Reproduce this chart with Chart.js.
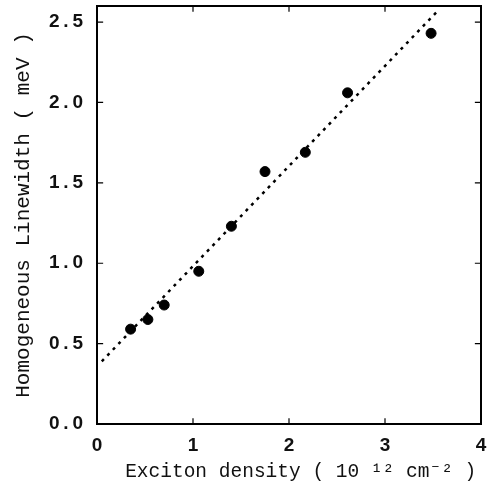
<!DOCTYPE html>
<html>
<head>
<meta charset="utf-8">
<script src="https://cdn.jsdelivr.net/npm/chart.js@4/dist/chart.umd.min.js"></script>
<style>
  html, body { margin: 0; padding: 0; background: #fff; }
  #wrap { width: 487px; height: 495px; }
</style>
</head>
<body>
<div id="wrap"><canvas id="myChart"></canvas></div>
<script>
// measured points
var density = [0.35, 0.53, 0.70, 1.06, 1.40, 1.75, 2.17, 2.61, 3.48];
var linewidth = [0.59, 0.65, 0.74, 0.95, 1.23, 1.57, 1.69, 2.06, 2.43];

// dotted fit line end points
var fitX = [0.05, 3.55];
var fitY = [0.39, 2.57];

var xTicks = [0, 1, 2, 3, 4];
var yTicks = [0.0, 0.5, 1.0, 1.5, 2.0, 2.5];

var xMin = 0, xMax = 4, yMin = 0, yMax = 2.6;

var monoFont = "'Liberation Mono', 'DejaVu Sans Mono', monospace";
var sansFont = "'Liberation Sans', Arial, sans-serif";

function spaced(s) {
  return s.split("").join("\u2009");
}

// tick mark length as a share of each axis range (about 6px)
var tickX = (xMax - xMin) * 0.016;
var tickY = (yMax - yMin) * 0.014;

// top and right sides of the box
var boxPts = [
  { x: xMin, y: yMax },
  { x: xMax, y: yMax },
  { x: xMax, y: yMin },
];

// short inward tick marks on all four sides, split by gaps
var tickPts = [];
xTicks.forEach(function (v) {
  tickPts.push({ x: v, y: yMin }, { x: v, y: yMin + tickY }, { x: v, y: null });
  tickPts.push({ x: v, y: yMax }, { x: v, y: yMax - tickY }, { x: v, y: null });
});
yTicks.forEach(function (v) {
  tickPts.push({ x: xMin, y: v }, { x: xMin + tickX, y: v }, { x: null, y: null });
  tickPts.push({ x: xMax, y: v }, { x: xMax - tickX, y: v }, { x: null, y: null });
});

var noTicks = { display: true, drawOnChartArea: false, drawTicks: false, tickLength: 0 };
var frame = { display: true, color: "#000", width: 2 };

function fitXAxis(s) { s.height = 60; s.paddingLeft = 0; s.paddingRight = 0; }
function fitYAxis(s) { s.width = 86; s.paddingTop = 0; s.paddingBottom = 0; }

new Chart(document.getElementById("myChart"), {
  type: "scatter",
  data: {
    datasets: [
      {
        label: "box",
        data: boxPts,
        showLine: true,
        borderColor: "#000",
        borderWidth: 2,
        pointRadius: 0,
        fill: false,
        clip: 4,
        order: 3,
      },
      {
        label: "ticks",
        data: tickPts,
        showLine: true,
        spanGaps: false,
        borderColor: "#000",
        borderWidth: 1.2,
        pointRadius: 0,
        fill: false,
        order: 3,
      },
      {
        label: "fit",
        data: fitX.map((x, i) => ({ x: x, y: fitY[i] })),
        showLine: true,
        borderColor: "#000",
        borderWidth: 2.5,
        borderDash: [3, 5],
        pointRadius: 0,
        fill: false,
        order: 2,
      },
      {
        label: "data",
        data: density.map((x, i) => ({ x: x, y: linewidth[i] })),
        pointRadius: 5,
        pointBackgroundColor: "#000",
        pointBorderColor: "#000",
        showLine: false,
        order: 1,
      },
    ],
  },
  options: {
    responsive: true,
    maintainAspectRatio: false,
    animation: false,
    layout: { padding: { left: 11, right: 5, top: 6, bottom: 11 } },
    plugins: { legend: { display: false }, tooltip: { enabled: false } },
    scales: {
      x: {
        type: "linear",
        position: "bottom",
        min: xMin,
        max: xMax,
        afterBuildTicks: (s) => { s.ticks = xTicks.map((v) => ({ value: v })); },
        afterFit: fitXAxis,
        grid: noTicks,
        border: frame,
        ticks: {
          color: "#111",
          padding: 10,
          font: { family: sansFont, size: 19, weight: "bold" },
          callback: (v) => spaced(String(v)),
        },
        title: {
          display: true,
          text: "\u00a0\u00a0Exciton density ( 10 \u00b9\u00b2 cm\u207b\u00b2 )",
          color: "#111",
          font: { family: monoFont, size: 19.5 },
          padding: { top: 4, bottom: 0 },
        },
      },
      y: {
        type: "linear",
        position: "left",
        min: yMin,
        max: yMax,
        afterBuildTicks: (s) => { s.ticks = yTicks.map((v) => ({ value: v })); },
        afterFit: fitYAxis,
        grid: noTicks,
        border: frame,
        ticks: {
          color: "#111",
          padding: 14,
          font: { family: sansFont, size: 19, weight: "bold" },
          callback: (v) => spaced(v.toFixed(1)),
        },
        title: {
          display: true,
          text: "Homogeneous Linewidth ( meV )",
          color: "#111",
          font: { family: monoFont, size: 21 },
          padding: { top: 0, bottom: 8 },
        },
      },
    },
  },
});
</script>
</body>
</html>
